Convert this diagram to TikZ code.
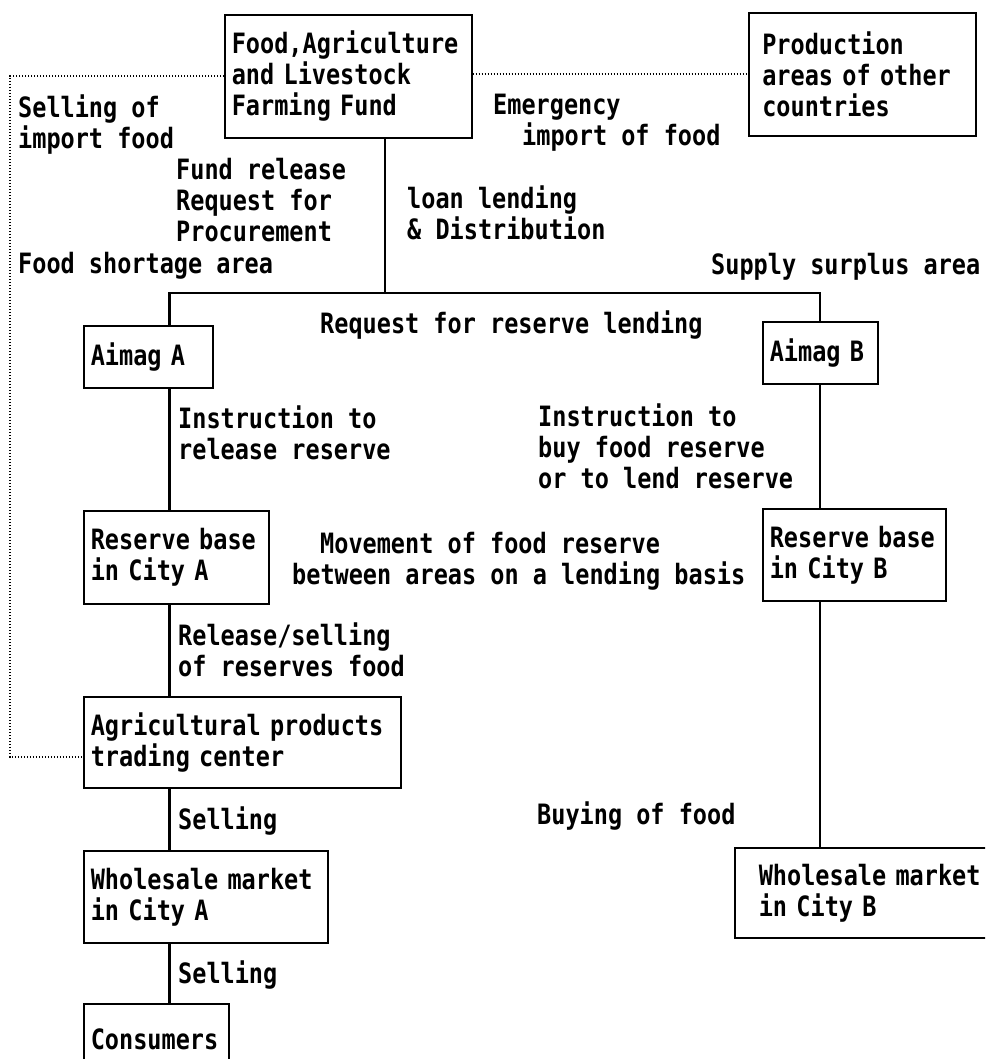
\documentclass[tikz,border=0pt]{standalone}
\usepackage{fontspec}
\newfontfamily\dmono[FakeStretch=0.84]{DejaVu Sans Mono}
\begin{document}
\begin{tikzpicture}[x=1pt,y=-1pt,
  every node/.style={font=\dmono\bfseries\fontsize{28pt}{31pt}\selectfont, inner sep=0pt},
  box/.style={draw, line width=1.6pt, anchor=north west, align=left, inner xsep=7pt, inner ysep=0pt},
  lbl/.style={anchor=base west, align=left},
  conn/.style={line width=2.4pt},
  dotline/.style={line width=1.3pt, dash pattern=on 1.3pt off 1.7pt}]
\useasboundingbox (0,0) rectangle (985,1059);
\clip (0,0) rectangle (985,1059);
% boxes
\node[box, minimum width=247pt, minimum height=123pt, text width=233pt] (fund) at (224,14) {Food,Agriculture\\and Livestock\\Farming Fund};
\node[box, minimum width=227pt, minimum height=123pt, text width=200pt, inner xsep=13.5pt] (prod) at (748,12) {Production\\areas of other\\countries};
\node[box, minimum width=129pt, minimum height=62pt, text width=115pt] (aimagA) at (83,325) {Aimag A};
\node[box, minimum width=115pt, minimum height=62pt, text width=101pt] (aimagB) at (762,321) {Aimag B};
\node[box, minimum width=185pt, minimum height=93pt, text width=171pt] (resA) at (83,510) {Reserve base\\in City A};
\node[box, minimum width=183pt, minimum height=92pt, text width=169pt] (resB) at (762,508) {Reserve base\\in City B};
\node[box, minimum width=317pt, minimum height=91pt, text width=303pt] (agri) at (83,696) {Agricultural products\\trading center};
\node[box, minimum width=244pt, minimum height=92pt, text width=230pt] (wsA) at (83,850) {Wholesale market\\in City A};
\node[box, minimum width=145pt, minimum height=70pt, text width=131pt] (cons) at (83,1003) {Consumers};
\node[box, minimum width=300pt, minimum height=90pt, text width=252pt, inner xsep=24pt] (wsB) at (734,847) {Wholesale market\\in City B};
% labels (anchor = baseline of the last line)
\node[lbl] (sellimp) at (18,149) {Selling of\\import food};
\node[lbl] (fundrel) at (176,241) {Fund release\\Request for\\Procurement};
\node[lbl] (loan) at (407,240) {loan lending\\\& Distribution};
\node[lbl] (emerg) at (493,146) {Emergency\\\hspace*{29pt}import of food};
\node[lbl] (shortage) at (18,273) {Food shortage area};
\node[lbl] (surplus) at (711,274) {Supply surplus area};
\node[lbl] (reqres) at (320,333) {Request for reserve lending};
\node[lbl] (instrA) at (178,459) {Instruction to\\release reserve};
\node[lbl] (instrB) at (538,488) {Instruction to\\buy food reserve\\or to lend reserve};
\node[lbl] (move) at (292,584) {\hspace*{28pt}Movement of food reserve\\between areas on a lending basis};
\node[lbl] (relsell) at (178,676) {Release/selling\\of reserves food};
\node[lbl] (sell1) at (178,829) {Selling};
\node[lbl] (buy) at (537,824) {Buying of food};
\node[lbl] (sell2) at (178,983) {Selling};
% connectors
\coordinate (junc) at (385,293);
\coordinate (colA) at (169.5,293);
\coordinate (colB) at (820,293);
\draw[conn] (junc |- fund.south) -- (junc);
\draw[conn] (colA |- aimagA.north) -- (colA) -- (colB) -- (colB |- aimagB.north);
\draw[conn] (colA |- aimagA.south) -- (colA |- resA.north);
\draw[conn] (colA |- resA.south) -- (colA |- agri.north);
\draw[conn] (colA |- agri.south) -- (colA |- wsA.north);
\draw[conn] (colA |- wsA.south) -- (colA |- cons.north);
\draw[conn] (colB |- aimagB.south) -- (colB |- resB.north);
\draw[conn] (colB |- resB.south) -- (colB |- wsB.north);
% dotted import route
\coordinate (dl1) at (10,76);
\coordinate (dl2) at (10,757);
\draw[dotline] (fund.west |- dl1) -- (dl1) -- (dl2) -- (agri.west |- dl2);
\draw[dotline] (fund.east |- 0,74) -- (prod.west |- 0,74);
\end{tikzpicture}
\end{document}
